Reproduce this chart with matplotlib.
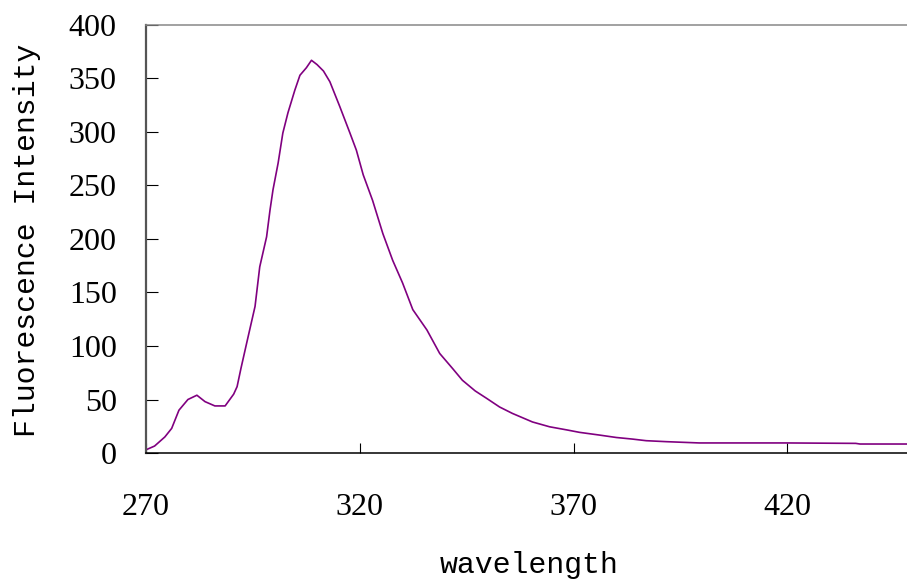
import matplotlib.pyplot as plt

# emission spectrum
wavelength = [270, 272, 274.4, 276, 277.7, 279.8, 281.9, 283.8, 286.1, 288.5,
              290.5, 291.3, 292.2, 293.5, 295.5, 296.6, 298.2, 299, 299.7, 300.9,
              302, 303.2, 304.8, 306, 307.5, 308.7, 310, 311.5, 313, 315.3,
              317.7, 319.2, 320.8, 323, 325.4, 327.7, 330, 332.4, 335.7, 338.7,
              341.7, 344, 347, 349.7, 352.7, 355.7, 360.4, 364.4, 368.4, 371.4,
              376, 380, 383.8, 387, 391.7, 399.4, 419.8, 436, 437, 448]
intensity = [3, 6.5, 15, 23, 40, 50, 54, 48, 44, 44,
             55, 62, 79, 102, 137, 174, 202, 227, 246, 271,
             299, 318, 339, 353, 360, 367, 363, 357, 347, 324,
             299, 283, 260, 236, 205, 180, 159, 134, 115, 93,
             79, 68, 58, 51, 43, 37, 29, 24.5, 21.6, 19.3,
             16.8, 14.5, 13, 11.5, 10.6, 9.4, 9.4, 9, 8.4, 8.4]

x_ticks = [270, 320, 370, 420]
y_ticks = [0, 50, 100, 150, 200, 250, 300, 350, 400]

plt.rcParams['font.family'] = ['Liberation Mono', 'DejaVu Sans']

fig = plt.figure(figsize=(9.07, 5.81), dpi=100)
ax = fig.add_axes([0.161, 0.2203, 0.839, 0.7367])

ax.plot(wavelength, intensity, color='#800080', linewidth=1.2)

ax.set_xlim(270, 448)
ax.set_ylim(0, 400)
ax.set_xticks(x_ticks)
ax.set_yticks(y_ticks)

ax.tick_params(axis='y', direction='in', length=8.5, width=0.8, pad=21,
               labelsize=23, colors='black')
ax.tick_params(axis='x', direction='in', length=7.5, width=0.8, pad=29,
               labelsize=23, colors='black')
for lbl in ax.get_xticklabels() + ax.get_yticklabels():
    lbl.set_fontfamily(['Liberation Serif', 'DejaVu Serif'])

ax.spines['right'].set_visible(False)
ax.spines['left'].set_color('#555555')
ax.spines['left'].set_linewidth(1.6)
ax.spines['top'].set_color('#888888')
ax.spines['top'].set_linewidth(1.1)
ax.spines['bottom'].set_color('black')
ax.spines['bottom'].set_linewidth(1.1)

fig.text(27 / 907, 1 - 240 / 581, 'Fluorescence Intensity', rotation=90,
         ha='center', va='center', fontsize=21.5)
fig.text(529 / 907, 1 - 565 / 581, 'wavelength', ha='center', va='center',
         fontsize=21.5)

fig.savefig('out.png', dpi=100)
